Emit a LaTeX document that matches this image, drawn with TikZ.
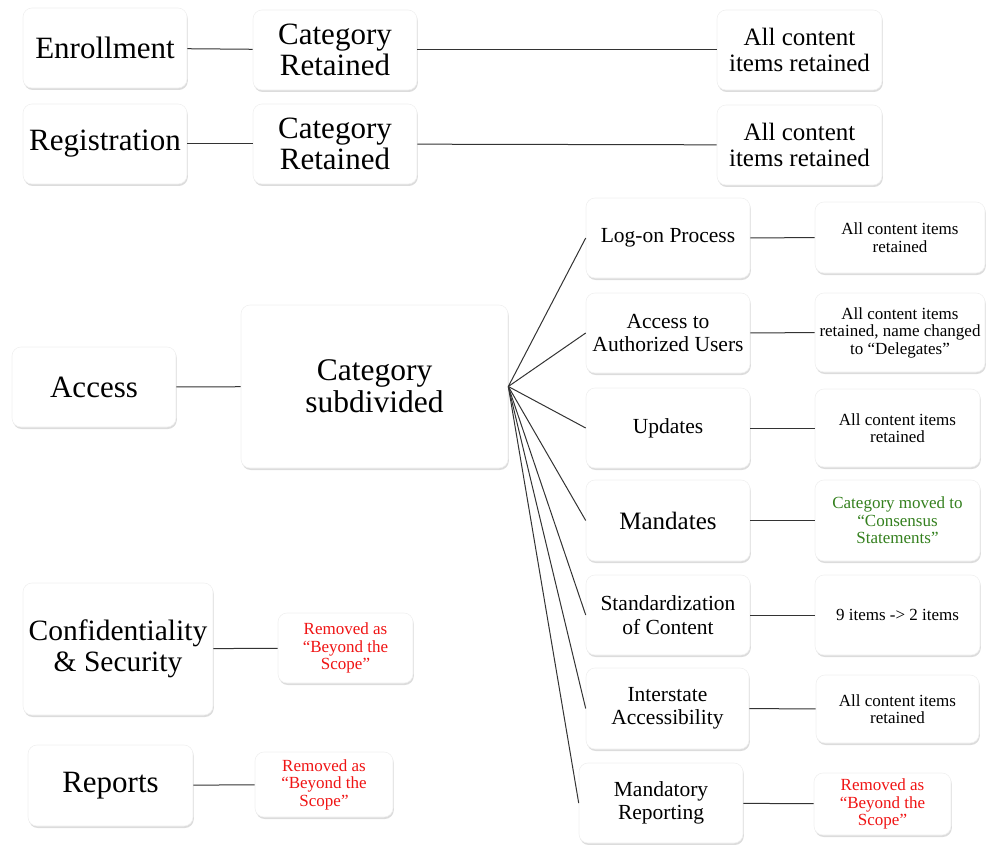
\documentclass[tikz,border=0pt]{standalone}
\usepackage{fontspec}
\setmainfont{Liberation Serif}
\usepackage{tikz}
\usetikzlibrary{shadows}
\definecolor{movedgreen}{RGB}{52,128,30}
\definecolor{removedred}{RGB}{240,20,20}

\begin{document}
\begin{tikzpicture}[x=1pt,y=-1pt,-,semithick]
  \tikzstyle{every node}=[rectangle,rounded corners=9pt,fill=white,draw=black!6,
                          drop shadow={opacity=0.28,shadow xshift=0.8pt,shadow yshift=-2pt},
                          align=center,inner sep=0pt,text=black]
  \tikzstyle{big}=[font=\fontsize{31}{31}\selectfont]
  \tikzstyle{mid}=[font=\fontsize{21.5}{23.5}\selectfont]
  \tikzstyle{note}=[font=\fontsize{25}{26}\selectfont]
  \tikzstyle{small}=[font=\fontsize{17}{17.5}\selectfont]
  \tikzstyle{removed}=[small,text=removedred]
  \tikzstyle{link}=[draw=black!80,line width=1pt]

  \useasboundingbox (0,0) rectangle (987,845);

  % retained categories
  \node[big,minimum width=164,minimum height=80]  (Enr)   at (105,48)    {Enrollment};
  \node[big,minimum width=164,minimum height=80]  (EnrC)  at (335,50)    {Category\\Retained};
  \node[note,minimum width=165,minimum height=80] (EnrA)  at (799.5,50)  {All content\\items retained};
  \node[big,minimum width=164,minimum height=80]  (Reg)   at (105,144)   {Registration};
  \node[big,minimum width=164,minimum height=80]  (RegC)  at (335,144)   {Category\\Retained};
  \node[note,minimum width=165,minimum height=80] (RegA)  at (799.5,145) {All content\\items retained};

  % subdivided category
  \node[big,minimum width=164,minimum height=80]  (Acc)   at (94,387)    {Access};
  \node[font=\fontsize{31.5}{32}\selectfont,minimum width=267,minimum height=163]
                                                  (AccC)  at (374.5,386.5) {Category\\subdivided};

  \node[mid,minimum width=164,minimum height=80]  (Log)   at (668,238)   {Log-on Process};
  \node[mid,minimum width=164,minimum height=80]  (Aut)   at (668,333)   {Access to\\Authorized Users};
  \node[mid,minimum width=164,minimum height=80]  (Upd)   at (668,428)   {Updates};
  \node[font=\fontsize{25}{25}\selectfont,minimum width=164,minimum height=81]
                                                  (Man)   at (668,520.5) {Mandates};
  \node[mid,minimum width=164,minimum height=80]  (Std)   at (668,615)   {Standardization\\of Content};
  \node[mid,minimum width=163,minimum height=81]  (Int)   at (667.5,708.5) {Interstate\\Accessibility};
  \node[mid,minimum width=164,minimum height=80]  (MRep)  at (661,803)   {Mandatory\\Reporting};

  \node[small,minimum width=170,minimum height=71] (LogA) at (900,237.5) {All content items\\retained};
  \node[small,minimum width=170,minimum height=79] (AutA) at (900,332.5) {All content items\\retained, name changed\\to “Delegates”};
  \node[small,minimum width=165,minimum height=78] (UpdA) at (897.5,428) {All content items\\retained};
  \node[small,text=movedgreen,minimum width=165,minimum height=81]
                                                   (ManA) at (897.5,520.5) {Category moved to\\“Consensus\\Statements”};
  \node[small,minimum width=165,minimum height=80] (StdA) at (897.5,615) {9 items -> 2 items};
  \node[small,minimum width=163,minimum height=68] (IntA) at (897.5,709) {All content items\\retained};
  \node[removed,minimum width=137,minimum height=62] (MRepA) at (882.5,804) {Removed as\\“Beyond the\\Scope”};

  % removed categories
  \node[font=\fontsize{29.5}{31}\selectfont,minimum width=190,minimum height=132]
                                                   (Conf)  at (118,649)   {Confidentiality\\\& Security};
  \node[removed,minimum width=135,minimum height=70] (ConfA) at (345.5,648) {Removed as\\“Beyond the\\Scope”};
  \node[big,minimum width=165,minimum height=81]   (Rep)   at (110.5,785.5) {Reports};
  \node[removed,minimum width=138,minimum height=65] (RepA) at (324,784.5) {Removed as\\“Beyond the\\Scope”};

  \path[link] (Enr) edge (EnrC)
              (EnrC) edge (EnrA)
              (Reg) edge (RegC)
              (RegC) edge (RegA)
              (Acc) edge (AccC)
              (AccC.east) edge (Log.west)
                          edge (Aut.west)
                          edge (Upd.west)
                          edge (Man.west)
                          edge (Std.west)
                          edge (Int.west)
                          edge (MRep.west)
              (Log) edge (LogA)
              (Aut) edge (AutA)
              (Upd) edge (UpdA)
              (Man) edge (ManA)
              (Std) edge (StdA)
              (Int) edge (IntA)
              (MRep) edge (MRepA)
              (Conf) edge (ConfA)
              (Rep) edge (RepA);
\end{tikzpicture}
\end{document}
